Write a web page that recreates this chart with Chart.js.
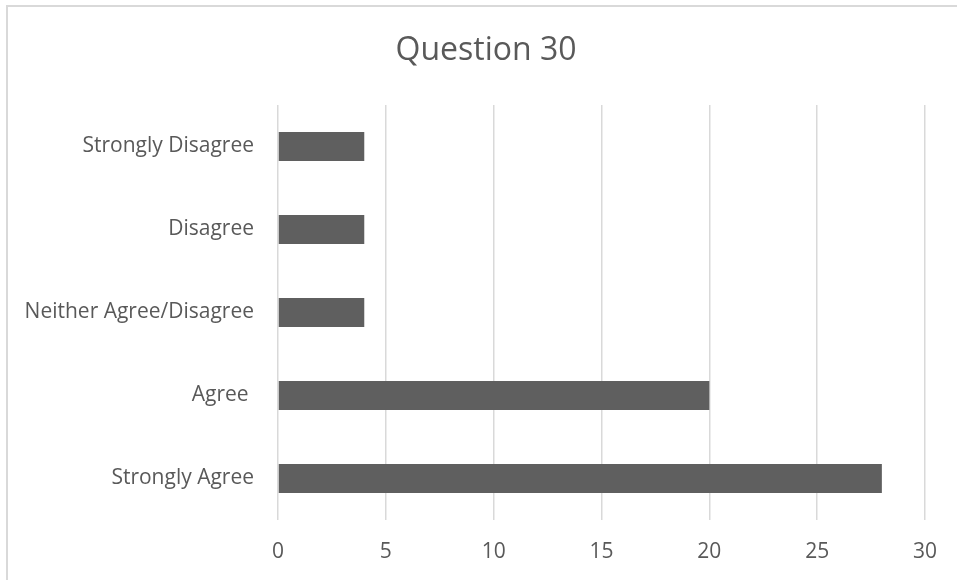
<!DOCTYPE html>
<html>
<head>
<meta charset="utf-8">
<script src="https://cdn.jsdelivr.net/npm/chart.js@4.4.1/dist/chart.umd.min.js"></script>
<style>
  html, body { margin: 0; padding: 0; background: #ffffff; overflow: hidden; }
  #wrap { position: relative; width: 957px; height: 580px; }
  #frame { position: absolute; left: 6px; top: 5px; width: 1000px; height: 700px; border: 2px solid #d9d9d9; box-sizing: border-box; pointer-events: none; }
  canvas { position: absolute; left: 0; top: 0; }
</style>
</head>
<body>
<div id="wrap">
  <canvas id="c" width="957" height="580"></canvas>
  <div id="frame"></div>
</div>
<script>
const categories = ["Strongly Disagree", "Disagree", "Neither Agree/Disagree", "Agree ", "Strongly Agree"];
const values = [4, 4, 4, 20, 28];
const xTicks = [0, 5, 10, 15, 20, 25, 30];
const titleText = "Question 30";

const FONT = "'Open Sans', 'Liberation Sans', sans-serif";
const TEXT = "#595959";

const titlePlugin = {
  id: "offsetTitle",
  afterDraw(chart) {
    const ctx = chart.ctx;
    ctx.save();
    ctx.fillStyle = TEXT;
    ctx.font = "32px " + FONT;
    ctx.textAlign = "center";
    ctx.textBaseline = "middle";
    ctx.fillText(titleText, 486, 51);
    ctx.restore();
  }
};

new Chart(document.getElementById("c"), {
  type: "bar",
  data: {
    labels: categories,
    datasets: [{
      data: values,
      backgroundColor: "#5f5f5f",
      borderWidth: 0,
      barPercentage: 0.35,
      categoryPercentage: 1.0
    }]
  },
  options: {
    indexAxis: "y",
    responsive: false,
    animation: false,
    layout: { padding: { left: 0, right: 32, top: 105, bottom: 0 } },
    plugins: {
      legend: { display: false },
      tooltip: { enabled: false },
      title: { display: false }
    },
    scales: {
      x: {
        min: xTicks[0],
        max: xTicks[xTicks.length - 1],
        afterBuildTicks: (s) => { s.ticks = xTicks.map(v => ({ value: v })); },
        afterFit: (s) => { s.height = 60; },
        grid: { color: "#d9d9d9", lineWidth: 1.5, drawTicks: false },
        border: { display: false },
        ticks: { color: TEXT, font: { family: FONT, size: 21 }, padding: 19 }
      },
      y: {
        afterFit: (s) => { s.width = 278; },
        grid: { display: false, drawTicks: false },
        border: { display: false },
        ticks: { color: TEXT, font: { family: FONT, size: 21 }, padding: 24 }
      }
    }
  },
  plugins: [titlePlugin]
});
</script>
</body>
</html>
